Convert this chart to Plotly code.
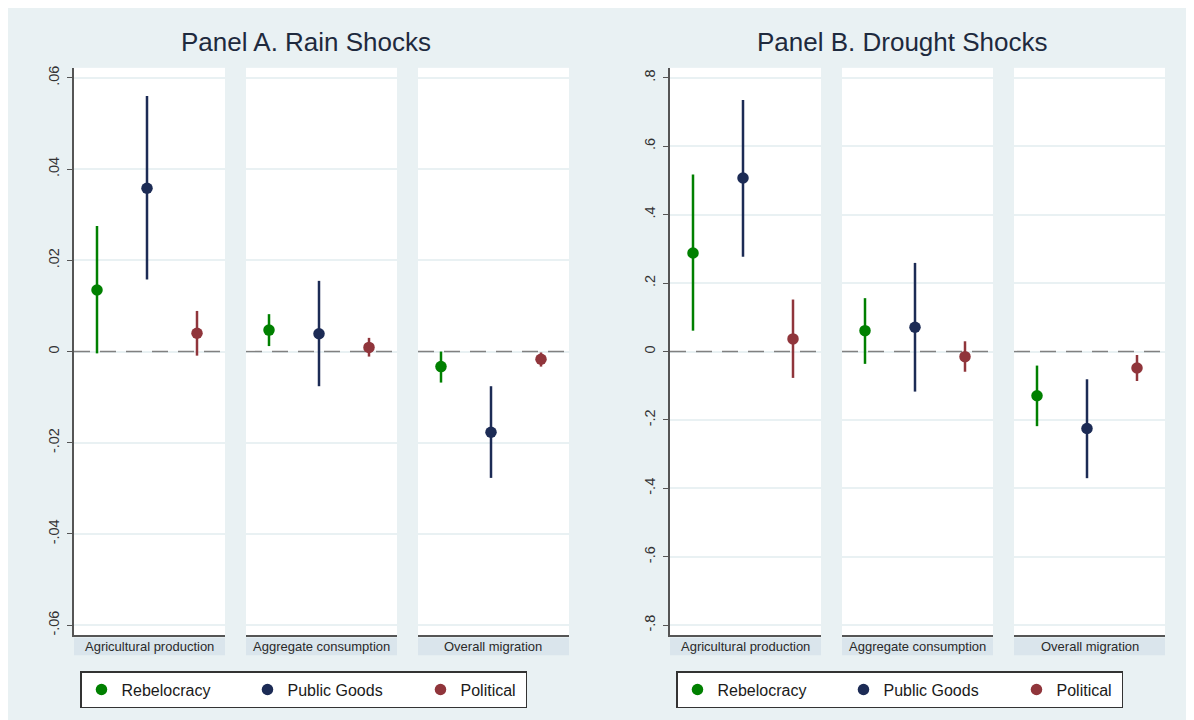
import plotly.graph_objects as go

W, H = 1194, 720

# ---------------- data ----------------
outcomes = ["Agricultural production", "Aggregate consumption", "Overall migration"]
series_names = ["Rebelocracy", "Public Goods", "Political"]
series_pos = [1, 2, 3]

# Panel A. Rain shocks  (one value per outcome)
rain_rebelocracy_coef = [0.0135, 0.0047, -0.0033]
rain_rebelocracy_lo = [-0.0004, 0.0012, -0.0068]
rain_rebelocracy_hi = [0.0275, 0.0082, 0.0000]
rain_public_coef = [0.0358, 0.0039, -0.0177]
rain_public_lo = [0.0158, -0.0076, -0.0277]
rain_public_hi = [0.0560, 0.0155, -0.0076]
rain_political_coef = [0.0040, 0.0009, -0.0017]
rain_political_lo = [-0.0009, -0.0011, -0.0033]
rain_political_hi = [0.0089, 0.0030, -0.0002]

# Panel B. Drought shocks
drought_rebelocracy_coef = [0.288, 0.061, -0.129]
drought_rebelocracy_lo = [0.061, -0.036, -0.218]
drought_rebelocracy_hi = [0.517, 0.156, -0.041]
drought_public_coef = [0.507, 0.071, -0.225]
drought_public_lo = [0.277, -0.117, -0.370]
drought_public_hi = [0.735, 0.259, -0.081]
drought_political_coef = [0.037, -0.015, -0.048]
drought_political_lo = [-0.077, -0.059, -0.086]
drought_political_hi = [0.152, 0.030, -0.010]

rain_ticks = [-0.06, -0.04, -0.02, 0, 0.02, 0.04, 0.06]
rain_ticktext = ["-.06", "-.04", "-.02", "0", ".02", ".04", ".06"]
drought_ticks = [-0.8, -0.6, -0.4, -0.2, 0, 0.2, 0.4, 0.6, 0.8]
drought_ticktext = ["-.8", "-.6", "-.4", "-.2", "0", ".2", ".4", ".6", ".8"]

titles = ["Panel A. Rain Shocks", "Panel B. Drought Shocks"]

# ---------------- style ----------------
colors = ["#008000", "#1c2b55", "#90353b"]
BG = "#E9F1F3"
STRIP = "#DAE5EC"
AXC = "#555555"
FONT = "Liberation Sans, Arial, sans-serif"
XR = [0.54, 3.56]

panels = [
    {
        "coef": [rain_rebelocracy_coef, rain_public_coef, rain_political_coef],
        "lo": [rain_rebelocracy_lo, rain_public_lo, rain_political_lo],
        "hi": [rain_rebelocracy_hi, rain_public_hi, rain_political_hi],
        "ticks": rain_ticks, "ticktext": rain_ticktext, "lim": 0.0622,
        "xpx": [(66, 217), (238, 389), (410, 561)],
        "title_x": 298, "legend_x": 72, "legend": "legend",
    },
    {
        "coef": [drought_rebelocracy_coef, drought_public_coef, drought_political_coef],
        "lo": [drought_rebelocracy_lo, drought_public_lo, drought_political_lo],
        "hi": [drought_rebelocracy_hi, drought_public_hi, drought_political_hi],
        "ticks": drought_ticks, "ticktext": drought_ticktext, "lim": 0.829,
        "xpx": [(662, 813), (834, 985), (1006, 1157)],
        "title_x": 894, "legend_x": 668, "legend": "legend2",
    },
]

legend_widths = [121, 128, 60]

y_top, y_bot = 58, 627
ydom = [1 - y_bot / H, 1 - y_top / H]

fig = go.Figure()
layout = dict(
    width=W, height=H, autosize=False,
    margin=dict(l=0, r=0, t=0, b=0),
    paper_bgcolor=BG, plot_bgcolor="white",
    font=dict(family=FONT, color="#2b2b2b"),
    showlegend=True,
)
shapes = []
annotations = []

k = 0
for p_i, P in enumerate(panels):
    for o_i, outcome in enumerate(outcomes):
        k += 1
        xa = "x" if k == 1 else f"x{k}"
        ya = "y" if k == 1 else f"y{k}"
        xkey = "xaxis" if k == 1 else f"xaxis{k}"
        ykey = "yaxis" if k == 1 else f"yaxis{k}"
        x0, x1 = P["xpx"][o_i]
        layout[xkey] = dict(
            domain=[x0 / W, x1 / W], range=XR, anchor=ya,
            showgrid=False, zeroline=False, showticklabels=False, ticks="",
            showline=True, linecolor=AXC, linewidth=1.5, fixedrange=True,
        )
        first = o_i == 0
        layout[ykey] = dict(
            domain=ydom, range=[-P["lim"], P["lim"]], anchor=xa,
            tickvals=P["ticks"], ticktext=P["ticktext"],
            showticklabels=first, ticks="outside" if first else "",
            ticklen=5, tickwidth=1.2, tickcolor=AXC, tickangle=-90,
            ticklabelstandoff=2,
            tickfont=dict(size=14.5, color="#333333"),
            showline=first, linecolor=AXC, linewidth=1.5,
            showgrid=True, gridcolor=BG, gridwidth=1.5,
            zeroline=False, fixedrange=True,
        )
        for s_i, name in enumerate(series_names):
            c = P["coef"][s_i][o_i]
            lo = P["lo"][s_i][o_i]
            hi = P["hi"][s_i][o_i]
            fig.add_trace(go.Scatter(
                x=[series_pos[s_i]], y=[c], xaxis=xa, yaxis=ya,
                mode="markers", name=name,
                marker=dict(color=colors[s_i], size=11.5),
                error_y=dict(type="data", symmetric=False,
                             array=[hi - c], arrayminus=[c - lo],
                             color=colors[s_i], thickness=2.5, width=0),
                showlegend=first, legend=P["legend"],
                legendwidth=legend_widths[s_i],
                hoverinfo="skip",
            ))
        # dashed zero reference line (between grid and data)
        shapes.append(dict(
            type="line", xref=xa, yref=ya, x0=XR[0], x1=XR[1], y0=0, y1=0,
            line=dict(color="#808080", width=1.4, dash="16px,10px"), layer="between",
        ))
        # outcome strip
        shapes.append(dict(
            type="rect", xref="paper", yref="paper",
            x0=x0 / W, x1=x1 / W, y0=1 - 647 / H, y1=1 - 629.5 / H,
            fillcolor=STRIP, line=dict(width=0), layer="below",
        ))
        annotations.append(dict(
            text=outcome, xref="paper", yref="paper",
            x=(x0 + x1) / 2 / W, y=1 - 638 / H, xanchor="center", yanchor="middle",
            showarrow=False, font=dict(size=13, color="#2a2a2a"),
        ))
    annotations.append(dict(
        text=titles[p_i], xref="paper", yref="paper",
        x=P["title_x"] / W, y=1 - 32 / H, xanchor="center", yanchor="middle",
        showarrow=False, font=dict(size=26, color="#1e2a3e"),
    ))
    layout[P["legend"]] = dict(
        orientation="h", x=P["legend_x"] / W, xanchor="left",
        y=1 - 663 / H, yanchor="top",
        bgcolor="white", bordercolor="#333333", borderwidth=1.5,
        font=dict(size=16, color="#1a1a1a"),
        itemclick=False, itemdoubleclick=False,
    )

layout["shapes"] = shapes
layout["annotations"] = annotations
fig.update_layout(**layout)

fig.write_html("out.html", config={"displayModeBar": False})
